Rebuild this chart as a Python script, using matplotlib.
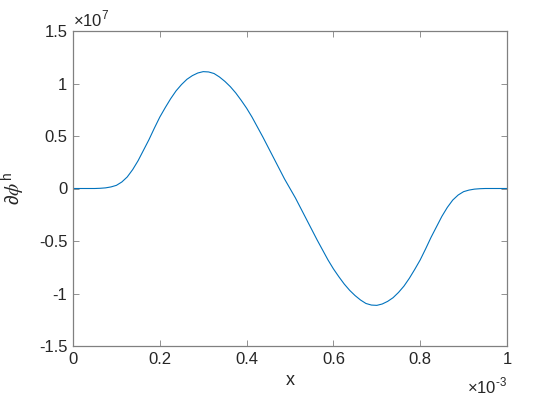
import numpy as np
import matplotlib; matplotlib.use("Agg")
import matplotlib.pyplot as plt
from matplotlib.ticker import FuncFormatter, MultipleLocator

plt.rcParams.update({
    "font.family": ["Liberation Sans", "DejaVu Sans"], "font.size": 12,
    "mathtext.fontset": "custom", "mathtext.rm": "Liberation Sans",
    "mathtext.it": "STIXGeneral:italic", "mathtext.sf": "Liberation Sans",
    "mathtext.fallback": "stix",
})

# x in units of 1e-3, y in units of 1e7
x_e3 = [0.0, 0.025, 0.05, 0.0625, 0.075, 0.0875, 0.1, 0.1125, 0.125, 0.1375,
        0.15, 0.1625, 0.175, 0.1875, 0.2, 0.2125, 0.225, 0.2375, 0.25, 0.2625,
        0.275, 0.2875, 0.3, 0.3125, 0.325, 0.3375, 0.35, 0.3625, 0.375, 0.3875,
        0.4, 0.4125, 0.425, 0.4375, 0.45, 0.4625, 0.475, 0.4875, 0.5,
        0.5125, 0.525, 0.5375, 0.55, 0.5625, 0.575, 0.5875, 0.6, 0.6125,
        0.625, 0.6375, 0.65, 0.6625, 0.675, 0.6875, 0.7, 0.7125, 0.725, 0.7375,
        0.75, 0.7625, 0.775, 0.7875, 0.8, 0.8125, 0.825, 0.8375, 0.85, 0.8625,
        0.875, 0.8875, 0.9, 0.9125, 0.925, 0.9375, 0.95, 0.975, 1.0]
dphi_e7 = [0.0, 0.0, 0.0, 0.002, 0.006, 0.015, 0.03, 0.062, 0.11, 0.18,
           0.265, 0.365, 0.465, 0.575, 0.68, 0.77, 0.855, 0.93, 0.99, 1.04,
           1.075, 1.10, 1.113, 1.11, 1.095, 1.062, 1.02, 0.97, 0.91, 0.84,
           0.765, 0.68, 0.585, 0.49, 0.39, 0.29, 0.19, 0.09, 0.0,
           -0.09, -0.19, -0.29, -0.39, -0.49, -0.585, -0.68, -0.765, -0.84,
           -0.91, -0.97, -1.02, -1.062, -1.095, -1.11, -1.113, -1.10, -1.075, -1.04,
           -0.99, -0.93, -0.855, -0.77, -0.68, -0.575, -0.465, -0.365, -0.265, -0.18,
           -0.11, -0.062, -0.03, -0.015, -0.006, -0.002, 0.0, 0.0, 0.0]

AX_C = "#808080"
TXT_C = "#262626"

fig = plt.figure(figsize=(5.6, 4.2), dpi=100)
ax = fig.add_axes([73 / 560, 74 / 420, 434 / 560, 315 / 420])
ax.plot(x_e3, dphi_e7, color="#0072BD", lw=0.8)

ax.set_xlim(0, 1); ax.set_ylim(-1.5, 1.5)
ax.xaxis.set_major_locator(MultipleLocator(0.2))
ax.yaxis.set_major_locator(MultipleLocator(0.5))
fmt = FuncFormatter(lambda v, p: ("%g" % round(v, 6)).replace("\u2212", "-"))
ax.xaxis.set_major_formatter(fmt); ax.yaxis.set_major_formatter(fmt)
ax.tick_params(direction="in", length=4, width=0.6, color=AX_C, labelcolor=TXT_C,
               top=True, right=True, pad=4)
for s in ax.spines.values():
    s.set_color(AX_C); s.set_linewidth(0.9)

ax.set_xlabel("x", color=TXT_C, fontsize=13, labelpad=4)
ax.set_ylabel(r"$\partial\phi^{\mathrm{h}}$", color=TXT_C, fontsize=14, labelpad=8)

# MATLAB-style exponent annotations
ax.text(0.0, 1.005, r"$\times$10$^{7}$", transform=ax.transAxes, ha="left", va="bottom",
        color=TXT_C, fontsize=12)
ax.text(1.0, -0.095, r"$\times$10$^{\text{-}3}$", transform=ax.transAxes, ha="right", va="top",
        color=TXT_C, fontsize=12)

fig.savefig("out.png", dpi=100, facecolor="white")
